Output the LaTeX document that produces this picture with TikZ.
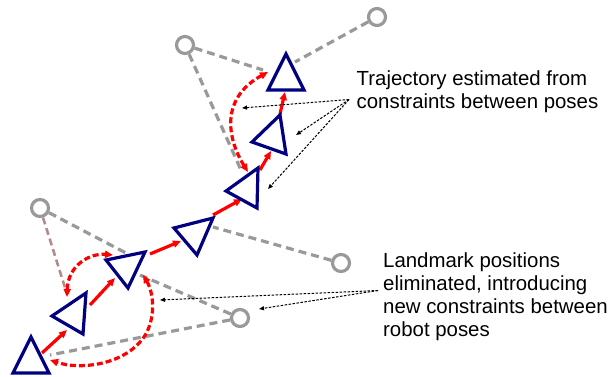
\documentclass[tikz,border=0pt]{standalone}
\usepackage{fontspec}
\setmainfont{Liberation Sans}
\usetikzlibrary{arrows.meta}
\definecolor{navyblue}{RGB}{0,0,128}
\definecolor{lmgray}{RGB}{153,153,153}
\definecolor{pinkgray}{RGB}{178,140,140}
\begin{document}
\begin{tikzpicture}[x=1pt,y=-1pt,
  pose/.style={draw=navyblue,line width=3.2pt,line join=miter},
  landmark/.style={circle,draw=lmgray,line width=3.2pt,minimum size=17pt,inner sep=0pt},
  obsline/.style={draw=lmgray,line width=3.2pt,dash pattern=on 8pt off 5pt},
  obsthin/.style={draw=pinkgray,line width=2.6pt,dash pattern=on 7pt off 4pt},
  odom/.style={draw=red,line width=3.2pt,-{Triangle[length=8pt,width=7pt]}},
  loopc/.style={draw=red,line width=3.2pt,dash pattern=on 6pt off 3pt,{Triangle[length=8pt,width=7pt]}-{Triangle[length=8pt,width=7pt]}},
  pointer/.style={draw=black,line width=1pt,dash pattern=on 2.5pt off 1.5pt,-{Triangle[length=5pt,width=4pt]}},
  caption/.style={font=\fontsize{20.4}{23}\selectfont,align=left,inner sep=0pt,anchor=base west}
]
\useasboundingbox (0,0) rectangle (610,376);

% landmarks
\node[landmark] (L1) at (377,17) {};
\node[landmark] (L2) at (185,45) {};
\node[landmark] (L3) at (40,208) {};
\node[landmark] (L4) at (240,318) {};
\node[landmark] (L5) at (341,263) {};

% observation end points
\coordinate (o1) at (295,62);
\coordinate (o2) at (263,70);
\coordinate (o3) at (241,170);
\coordinate (o4) at (67,294);
\coordinate (o5) at (126,253);
\coordinate (o6) at (140,275);
\coordinate (o7) at (50,355);
\coordinate (o8) at (213,227);

\draw[obsline] (L1) -- (o1);
\draw[obsline] (L2) -- (o2);
\draw[obsline] (L2) -- (o3);
\draw[obsthin] (L3) -- (o4);
\draw[obsline] (L3) -- (o5);
\draw[obsline] (L4) -- (o6);
\draw[obsline] (L4) -- (o7);
\draw[obsline] (L5) -- (o8);

% loop-closure constraints
\coordinate (a1) at (67,297);
\coordinate (a2) at (113,255);
\coordinate (b1) at (143,275);
\coordinate (b2) at (50,360);
\coordinate (c1) at (248,172);
\coordinate (c2) at (268,72);
\draw[loopc] (a1) .. controls (68,265) and (90,253) .. (a2);
\draw[loopc] (b1) .. controls (155,295) and (156,325) .. (140,342) .. controls (120,365) and (80,370) .. (b2);
\draw[loopc] (c1) .. controls (228,140) and (219,99) .. (c2);

% odometry
\coordinate (d1s) at (42,353); \coordinate (d1e) at (67,330);
\coordinate (d2s) at (90,305); \coordinate (d2e) at (115,278);
\coordinate (d3s) at (150,254); \coordinate (d3e) at (181,241);
\coordinate (d4s) at (213,215); \coordinate (d4e) at (242,199);
\coordinate (d5s) at (260,170); \coordinate (d5e) at (271,151);
\coordinate (d6s) at (280,114); \coordinate (d6e) at (285,92);
\draw[odom] (d1s) -- (d1e);
\draw[odom] (d2s) -- (d2e);
\draw[odom] (d3s) -- (d3e);
\draw[odom] (d4s) -- (d4e);
\draw[odom] (d5s) -- (d5e);
\draw[odom] (d6s) -- (d6e);

% poses
\draw[pose] (31,337) coordinate (T1) -- (13,373) -- (49,373) -- cycle;
\draw[pose] (52,316) coordinate (T2) -- (86,293) -- (83,334) -- cycle;
\draw[pose] (106,260) coordinate (T3) -- (145,252) -- (128,288) -- cycle;
\draw[pose] (174,228) coordinate (T4) -- (213,218) -- (197,255) -- cycle;
\draw[pose] (226,191) coordinate (T5) -- (258,168) -- (257,208) -- cycle;
\draw[pose] (252,142) coordinate (T6) -- (280,115) -- (286,154) -- cycle;
\draw[pose] (286,54) coordinate (T7) -- (268,90) -- (304,90) -- cycle;

% captions (base anchor = baseline of the last line)
\node[caption] (cap1) at (356.5,108.3) {Trajectory estimated from\\constraints between poses};
\node[caption] (cap2) at (383,336.7) {Landmark positions\\eliminated, introducing\\new constraints between\\robot poses};

\coordinate (p1) at (349,99.5);
\coordinate (p2) at (378,290.5);
\coordinate (q1) at (242,108);
\coordinate (q2) at (296,135);
\coordinate (q3) at (268,189);
\coordinate (q4) at (160,300);
\coordinate (q5) at (259,309);
\draw[pointer] (p1) -- (q1);
\draw[pointer] (p1) -- (q2);
\draw[pointer] (p1) -- (q3);
\draw[pointer] (p2) -- (q4);
\draw[pointer] (p2) -- (q5);
\end{tikzpicture}
\end{document}
